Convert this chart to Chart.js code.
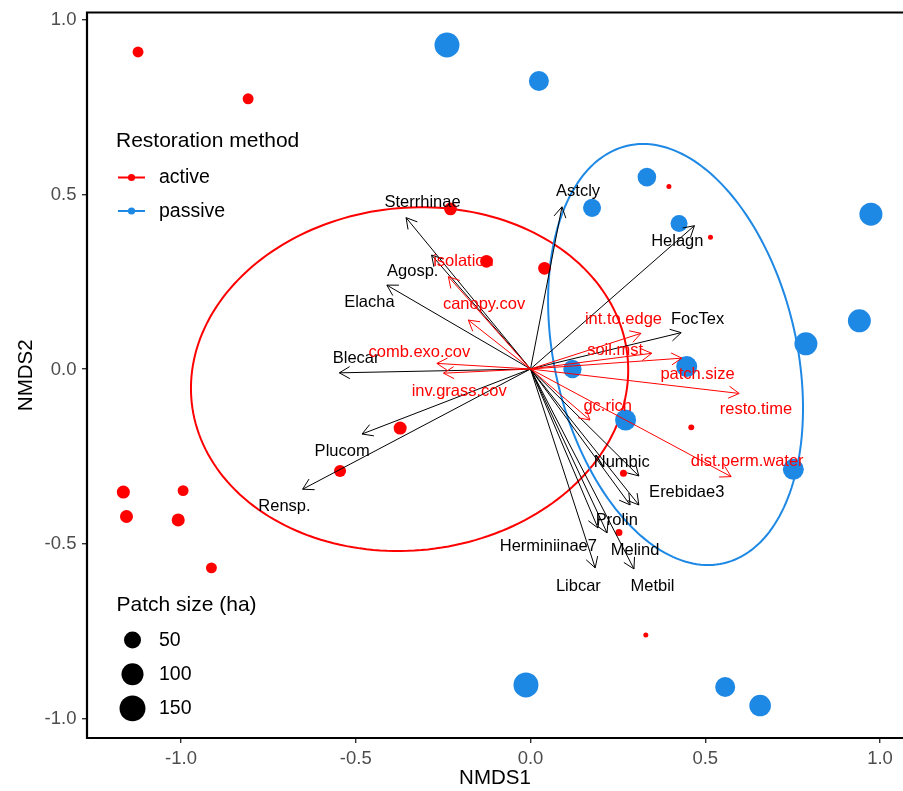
<!DOCTYPE html>
<html>
<head>
<meta charset="utf-8">
<title>NMDS ordination</title>
<script src="https://cdn.jsdelivr.net/npm/chart.js@4/dist/chart.umd.min.js"></script>
<style>
  html, body { margin: 0; padding: 0; background: #ffffff; }
  #wrap { width: 903px; height: 791px; }
</style>
</head>
<body>
<div id="wrap"><canvas id="nmds" width="903" height="791"></canvas></div>
<script>
// ---- site scores: active restoration ----
const activeX     = [-1.123, -0.808, -0.229, -0.126, 0.040, 0.396, 0.515, -0.373, -0.545, -1.165, -1.156, -0.994, -1.008, -0.913, 0.266, 0.253, 0.460, 0.330];
const activeY     = [0.907, 0.773, 0.458, 0.308, 0.288, 0.522, 0.377, -0.169, -0.292, -0.352, -0.422, -0.348, -0.432, -0.569, -0.298, -0.468, -0.167, -0.761];
const activePatch = [13, 13, 21, 21, 21, 1, 1, 23, 18, 23, 23, 13, 23, 13, 2.4, 2.4, 1.3, 1];

// ---- site scores: passive restoration ----
const passiveX     = [-0.239, 0.024, 0.333, 0.176, 0.425, 0.974, 0.941, 0.788, 0.120, 0.447, 0.272, 0.752, -0.013, 0.557, 0.657];
const passiveY     = [0.927, 0.824, 0.549, 0.461, 0.416, 0.443, 0.138, 0.072, 0.000, 0.007, -0.146, -0.287, -0.904, -0.910, -0.963];
const passivePatch = [137, 78, 64, 59, 50, 111, 111, 111, 62, 88, 88, 88, 137, 78, 95];

// ---- species vectors (envfit) and label anchors ----
const speciesNames  = ['Sterrhinae', 'Agosp.', 'Elacha', 'Blecar', 'Plucom', 'Rensp.', 'Astcly', 'Helagn', 'FocTex', 'Numbic', 'Erebidae3', 'Melind', 'Prolin', 'Herminiinae7', 'Libcar', 'Metbil'];
const speciesX      = [-0.356, -0.283, -0.411, -0.547, -0.482, -0.652, 0.090, 0.469, 0.431, 0.310, 0.310, 0.285, 0.219, 0.193, 0.185, 0.296];
const speciesY      = [0.433, 0.326, 0.240, -0.011, -0.186, -0.344, 0.464, 0.410, 0.104, -0.306, -0.389, -0.389, -0.469, -0.455, -0.569, -0.572];
const speciesLabelX = [-0.309, -0.337, -0.461, -0.499, -0.539, -0.704, 0.136, 0.420, 0.478, 0.261, 0.447, 0.299, 0.247, 0.051, 0.137, 0.349];
const speciesLabelY = [0.476, 0.278, 0.190, 0.031, -0.237, -0.392, 0.509, 0.366, 0.143, -0.268, -0.354, -0.518, -0.434, -0.508, -0.621, -0.621];

// ---- environmental vectors and label anchors ----
const envNames  = ['isolation', 'canopy.cov', 'comb.exo.cov', 'inv.grass.cov', 'int.to.edge', 'soil.mst', 'patch.size', 'resto.time', 'gc.rich', 'dist.perm.water'];
const envX      = [-0.235, -0.178, -0.268, -0.249, 0.316, 0.347, 0.433, 0.597, 0.170, 0.574];
const envY      = [0.264, 0.140, 0.016, -0.012, 0.102, 0.045, 0.031, -0.070, -0.146, -0.308];
const envLabelX = [-0.192, -0.133, -0.318, -0.204, 0.266, 0.242, 0.478, 0.645, 0.221, 0.620];
const envLabelY = [0.307, 0.185, 0.047, -0.065, 0.143, 0.054, -0.017, -0.117, -0.108, -0.265];

// ---- 95% ellipses per restoration method ----
const groupNames    = ['active', 'passive'];
const ellipseCX     = [-0.346, 0.415];
const ellipseCY     = [-0.029, 0.0415];
const ellipseMajor  = [0.627, 0.613];
const ellipseMinor  = [0.490, 0.3465];
const ellipseAngle  = [6.2, 103];   // degrees, counter-clockwise from NMDS1

// ---- axis ticks and size legend breaks ----
const xTicks = [-1.0, -0.5, 0.0, 0.5, 1.0];
const yTicks = [-1.0, -0.5, 0.0, 0.5, 1.0];
const sizeBreaks = [50, 100, 150];

const groupColors = ['#FF0000', '#1E88E5'];
const FONT = "'Liberation Sans', Arial, Helvetica, sans-serif";

// area-proportional radius for patch size (ha)
const sizeDomain = [1, 160];
const radiusRange = [2.5, 13.3];
function patchRadius(ha) {
  let t = (ha - sizeDomain[0]) / (sizeDomain[1] - sizeDomain[0]);
  t = Math.max(0, Math.min(1, t));
  return radiusRange[0] + (radiusRange[1] - radiusRange[0]) * Math.sqrt(t);
}

const toPoints = (xs, ys) => xs.map((x, i) => ({ x: x, y: ys[i] }));

function siteSet(label, xs, ys, patch, color) {
  return {
    type: 'scatter', label: label, data: toPoints(xs, ys), order: 2,
    pointRadius: c => patchRadius(patch[c.dataIndex]),
    pointBackgroundColor: color, pointBorderColor: color, pointBorderWidth: 0,
    showLine: false
  };
}

function vectorSets(names, xs, ys, color) {
  return names.map((n, i) => ({
    type: 'scatter', label: n, isVector: true, headColor: color, order: 1,
    data: [{ x: 0, y: 0 }, { x: xs[i], y: ys[i] }],
    showLine: true, borderColor: color, borderWidth: 1, pointRadius: 0, fill: false
  }));
}

const datasets = [
  ...vectorSets(envNames, envX, envY, '#FF0000'),
  ...vectorSets(speciesNames, speciesX, speciesY, '#000000'),
  siteSet('active', activeX, activeY, activePatch, groupColors[0]),
  siteSet('passive', passiveX, passiveY, passivePatch, groupColors[1])
];

// group ellipses, drawn beneath the site points
const ellipsePlugin = {
  id: 'groupEllipses',
  beforeDatasetsDraw(chart) {
    const { ctx, chartArea: ca, scales: { x, y } } = chart;
    ctx.save();
    ctx.beginPath();
    ctx.rect(ca.left, ca.top, ca.right - ca.left, ca.bottom - ca.top);
    ctx.clip();
    groupNames.forEach((g, i) => {
      const th = ellipseAngle[i] * Math.PI / 180;
      ctx.beginPath();
      const n = 200;
      for (let k = 0; k <= n; k++) {
        const t = k / n * 2 * Math.PI;
        const dx = ellipseMajor[i] * Math.cos(t);
        const dy = ellipseMinor[i] * Math.sin(t);
        const px = x.getPixelForValue(ellipseCX[i] + dx * Math.cos(th) - dy * Math.sin(th));
        const py = y.getPixelForValue(ellipseCY[i] + dx * Math.sin(th) + dy * Math.cos(th));
        if (k === 0) ctx.moveTo(px, py); else ctx.lineTo(px, py);
      }
      ctx.closePath();
      ctx.strokeStyle = groupColors[i];
      ctx.lineWidth = 2;
      ctx.stroke();
    });
    ctx.restore();
  }
};

// open arrow heads and vector labels
const vectorPlugin = {
  id: 'vectorHeads',
  afterDatasetsDraw(chart) {
    const { ctx, scales: { x, y } } = chart;
    ctx.save();
    chart.data.datasets.forEach((ds, i) => {
      if (!ds.isVector) return;
      const meta = chart.getDatasetMeta(i);
      const p0 = meta.data[0], p1 = meta.data[1];
      const ang = Math.atan2(p1.y - p0.y, p1.x - p0.x);
      const L = 12, spread = Math.PI / 6;
      ctx.beginPath();
      ctx.moveTo(p1.x - L * Math.cos(ang - spread), p1.y - L * Math.sin(ang - spread));
      ctx.lineTo(p1.x, p1.y);
      ctx.lineTo(p1.x - L * Math.cos(ang + spread), p1.y - L * Math.sin(ang + spread));
      ctx.strokeStyle = ds.headColor;
      ctx.lineWidth = 1;
      ctx.stroke();
    });
    ctx.font = '16.5px ' + FONT;
    ctx.textAlign = 'center';
    ctx.textBaseline = 'middle';
    ctx.fillStyle = '#000000';
    speciesNames.forEach((n, i) => {
      ctx.fillText(n, x.getPixelForValue(speciesLabelX[i]), y.getPixelForValue(speciesLabelY[i]));
    });
    ctx.fillStyle = '#FF0000';
    envNames.forEach((n, i) => {
      ctx.fillText(n, x.getPixelForValue(envLabelX[i]), y.getPixelForValue(envLabelY[i]));
    });
    ctx.restore();
  }
};

// panel frame, tick labels and the two legends
const framePlugin = {
  id: 'frameAndLegends',
  afterDraw(chart) {
    const { ctx, chartArea: ca, scales: { x, y } } = chart;
    ctx.save();
    ctx.strokeStyle = '#000000';
    ctx.lineWidth = 2.2;
    ctx.beginPath();
    ctx.moveTo(ca.right + 2, ca.top);
    ctx.lineTo(ca.left, ca.top);
    ctx.lineTo(ca.left, ca.bottom);
    ctx.lineTo(ca.right + 2, ca.bottom);
    ctx.stroke();

    // tick labels
    ctx.fillStyle = '#4D4D4D';
    ctx.font = '18.5px ' + FONT;
    ctx.textBaseline = 'middle';
    ctx.textAlign = 'center';
    xTicks.forEach(v => ctx.fillText(v.toFixed(1), x.getPixelForValue(v), ca.bottom + 20.5));
    ctx.textAlign = 'right';
    yTicks.forEach(v => ctx.fillText(v.toFixed(1), ca.left - 10.5, y.getPixelForValue(v) + 0.5));

    const lx = ca.left + 29;
    ctx.textAlign = 'left';
    ctx.fillStyle = '#000000';
    ctx.font = '21px ' + FONT;
    ctx.fillText('Restoration method', lx, 141);
    ctx.font = '19.5px ' + FONT;
    groupNames.forEach((g, i) => {
      const yy = 177.5 + i * 33.5;
      ctx.strokeStyle = groupColors[i];
      ctx.lineWidth = 2;
      ctx.beginPath();
      ctx.moveTo(lx + 2, yy);
      ctx.lineTo(lx + 29, yy);
      ctx.stroke();
      ctx.fillStyle = groupColors[i];
      ctx.beginPath();
      ctx.arc(lx + 15.5, yy, 3.6, 0, 2 * Math.PI);
      ctx.fill();
      ctx.fillStyle = '#000000';
      ctx.fillText(g, lx + 43, yy + 0.5);
    });

    ctx.font = '21px ' + FONT;
    ctx.fillText('Patch size (ha)', lx + 0.5, 605);
    ctx.font = '19.5px ' + FONT;
    sizeBreaks.forEach((b, i) => {
      const yy = 640 + i * 34.2;
      ctx.fillStyle = '#000000';
      ctx.beginPath();
      ctx.arc(lx + 16.5, yy, patchRadius(b), 0, 2 * Math.PI);
      ctx.fill();
      ctx.fillText(String(b), lx + 43, yy + 0.5);
    });
    ctx.restore();
  }
};

const titleFont = { family: FONT, size: 20.5 };

new Chart(document.getElementById('nmds'), {
  type: 'scatter',
  data: { datasets: datasets },
  options: {
    responsive: false,
    animation: false,
    events: [],
    devicePixelRatio: 1,
    layout: { autoPadding: false, padding: { top: 12.5, left: 0, right: 0, bottom: 0 } },
    plugins: { legend: { display: false }, tooltip: { enabled: false } },
    scales: {
      x: {
        type: 'linear', position: 'bottom',
        min: -1.269, max: 1.0658,
        afterBuildTicks: s => { s.ticks = xTicks.map(v => ({ value: v })); },
        afterFit: s => { s.height = 53; s.paddingLeft = 0; s.paddingRight = 0; },
        ticks: { display: false },
        grid: { drawOnChartArea: false, drawTicks: true, tickLength: 5, color: '#333333', lineWidth: 1.4 },
        border: { display: false },
        title: { display: true, text: 'NMDS1', color: '#000000', font: titleFont, padding: { top: 0, bottom: 0 } }
      },
      y: {
        type: 'linear', position: 'left',
        min: -1.0558, max: 1.02,
        afterBuildTicks: s => { s.ticks = yTicks.map(v => ({ value: v })); },
        afterFit: s => { s.width = 87; s.paddingTop = 0; s.paddingBottom = 0; },
        ticks: { display: false },
        grid: { drawOnChartArea: false, drawTicks: true, tickLength: 5, color: '#333333', lineWidth: 1.4 },
        border: { display: false },
        title: { display: true, text: 'NMDS2', color: '#000000', font: titleFont, padding: { top: 14, bottom: 0 } }
      }
    }
  },
  plugins: [ellipsePlugin, vectorPlugin, framePlugin]
});
</script>
</body>
</html>
